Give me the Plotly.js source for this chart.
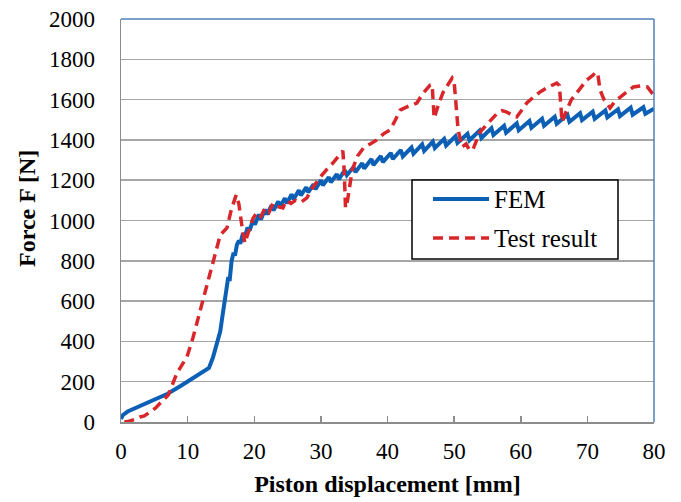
<!DOCTYPE html>
<html>
<head>
<meta charset="utf-8">
<script src="https://cdn.plot.ly/plotly-3.0.1.min.js"></script>
<style>html,body{margin:0;padding:0;background:#fff;}#chart{width:681px;height:502px;}</style>
</head>
<body>
<div id="chart"></div>
<script>
// FEM series (displacement mm, force N)
const femX = [0,0.3,1,3,5,7,9,11,13.2,13.8,14.4,14.9,15.2,15.5,15.8,16.1,16.3,16.6,16.9,17.1,17.4,17.7,17.9,18.3,18.6,19.0,19.3,19.8,20.1,20.7,21.0,21.6,21.9,22.6,22.9,23.6,23.9,24.6,24.9,25.6,25.9,26.7,27.0,27.8,28.1,28.9,29.2,30.0,30.3,31.2,31.5,32.4,32.7,33.6,33.9,34.9,35.2,36.2,36.5,37.6,37.9,39.0,39.3,40.5,40.8,42.0,42.3,43.6,43.9,45.2,45.5,46.8,47.1,48.5,48.8,50.2,50.5,52.0,52.3,53.8,54.1,55.6,55.9,57.5,57.8,59.4,59.7,61.3,61.6,63.2,63.5,65.1,65.4,67.0,67.3,68.9,69.2,70.8,71.1,72.7,73.0,74.6,74.9,76.5,76.8,78.4,78.7,80];
const femY = [15,35,52,80,108,140,180,220,268,320,390,450,520,600,660,720,700,800,840,825,880,900,885,935,920,965,950,1000,980,1030,1005,1055,1030,1075,1050,1095,1070,1110,1085,1130,1105,1150,1125,1165,1140,1180,1155,1200,1175,1215,1190,1230,1205,1250,1225,1265,1240,1285,1258,1305,1275,1320,1290,1335,1305,1350,1318,1362,1332,1378,1346,1392,1360,1405,1372,1418,1385,1430,1398,1445,1410,1458,1424,1470,1436,1482,1448,1494,1460,1505,1470,1515,1480,1525,1490,1533,1498,1540,1505,1546,1512,1552,1518,1560,1525,1562,1530,1555];

// Test result series
const testX = [0.5,1,2,2.85,3.5,4.35,5.2,5.9,7.1,8.4,9.9,10.8,11.9,12.8,13.7,14.9,15.9,16.6,17.3,17.7,18.2,18.6,19.2,19.8,20.4,21.0,21.6,22.2,22.8,23.4,24.3,24.8,25.5,26.2,27.0,27.9,28.5,29.2,29.9,30.8,31.8,32.9,33.3,33.5,33.7,34.0,34.7,35.5,36.4,37.4,38.4,39.4,40.4,41.2,41.9,43.0,44.4,45.3,46.4,46.7,47.0,47.5,48.3,49.0,49.7,50.0,50.3,50.6,51.2,51.8,52.3,52.8,53.4,53.9,55.0,56.5,57.2,57.9,58.6,59.4,60.2,60.9,62.0,62.9,64.0,65.4,65.8,66.1,66.2,66.9,67.6,68.4,69.9,70.8,71.3,71.6,71.9,72.5,73.4,74.1,74.9,76.0,76.9,78.0,79.0,79.5,80];
const testY = [0,2,12,25,30,50,70,94,134,243,323,418,555,660,780,928,963,1060,1127,1080,960,888,950,1010,1040,1020,1060,1040,1085,1070,1062,1100,1085,1100,1090,1112,1150,1185,1216,1250,1285,1330,1345,1250,1062,1100,1250,1320,1360,1380,1400,1430,1450,1500,1548,1565,1583,1630,1672,1675,1508,1560,1633,1670,1707,1690,1550,1449,1365,1380,1350,1350,1400,1439,1480,1533,1545,1538,1525,1514,1550,1583,1615,1638,1660,1682,1670,1560,1489,1548,1600,1633,1697,1720,1737,1720,1648,1600,1558,1590,1613,1640,1663,1668,1663,1640,1620];

const xTicks = [0,10,20,30,40,50,60,70,80];
const yTicks = [0,200,400,600,800,1000,1200,1400,1600,1800,2000];
const seriesNames = ['FEM', 'Test result'];
const seriesColors = ['#0b5fb5', '#d8262b'];
const xTitle = 'Piston displacement [mm]';
const yTitle = 'Force F [N]';

const serif = 'Liberation Serif, Times New Roman, serif';

// plot area in pixels (for placing legend / titles)
const PL = 121, PR = 654, PT = 19, PB = 422;
const px = v => (v - PL) / (PR - PL);
const py = v => (PB - v) / (PB - PT);

const traces = [
  {x: femX, y: femY, name: seriesNames[0], type: 'scatter', mode: 'lines',
   line: {color: seriesColors[0], width: 4}},
  {x: testX, y: testY, name: seriesNames[1], type: 'scatter', mode: 'lines',
   line: {color: seriesColors[1], width: 3.5, dash: '10px,6px'}}
];

const layout = {
  width: 681, height: 502,
  margin: {l: PL, r: 681 - PR, t: PT, b: 502 - PB},
  paper_bgcolor: '#ffffff', plot_bgcolor: '#ffffff',
  showlegend: false,
  xaxis: {
    range: [0, 80], tickvals: xTicks, ticktext: xTicks.map(String),
    showgrid: false, zeroline: false,
    showline: true, linecolor: '#8c8c8c', linewidth: 1.5,
    ticks: 'inside', ticklen: 6, tickwidth: 1.5, tickcolor: '#8c8c8c',
    tickfont: {family: serif, size: 23, color: '#000'},
    ticklabelstandoff: 8,
    title: {text: xTitle, font: {family: serif, size: 24, color: '#000', weight: 'bold'}, standoff: 12}
  },
  yaxis: {
    range: [0, 2000], tickvals: yTicks, ticktext: yTicks.map(String),
    showgrid: true, gridcolor: '#a6a6a6', gridwidth: 1.5, zeroline: false,
    showline: true, linecolor: '#8c8c8c', linewidth: 1.5,
    ticks: '',
    tickfont: {family: serif, size: 23, color: '#000'},
    ticklabelstandoff: 20
  },
  shapes: [
    {type: 'line', xref: 'paper', yref: 'paper', x0: 0, x1: 1, y0: 1, y1: 1,
     line: {color: '#4f81bd', width: 1.5}},
    {type: 'line', xref: 'paper', yref: 'paper', x0: 1, x1: 1, y0: 0, y1: 1,
     line: {color: '#4f81bd', width: 1.5}},
    // legend box
    {type: 'rect', xref: 'paper', yref: 'paper', x0: px(412), x1: px(618), y0: py(259), y1: py(180),
     fillcolor: '#ffffff', line: {color: '#000000', width: 1.5}},
    // legend samples
    {type: 'line', xref: 'paper', yref: 'paper', x0: px(433), x1: px(489), y0: py(199), y1: py(199),
     line: {color: seriesColors[0], width: 4}},
    {type: 'line', xref: 'paper', yref: 'paper', x0: px(433), x1: px(489), y0: py(238), y1: py(238),
     line: {color: seriesColors[1], width: 3.5, dash: '10px,6px'}}
  ],
  annotations: [
    {text: yTitle, xref: 'paper', yref: 'paper', x: px(27), y: py(209),
     xanchor: 'center', yanchor: 'middle', textangle: -90, showarrow: false,
     font: {family: serif, size: 24, color: '#000', weight: 'bold'}},
    {text: seriesNames[0], xref: 'paper', yref: 'paper', x: px(492), y: py(199),
     xanchor: 'left', yanchor: 'middle', showarrow: false,
     font: {family: serif, size: 25, color: '#000'}},
    {text: seriesNames[1], xref: 'paper', yref: 'paper', x: px(492), y: py(238),
     xanchor: 'left', yanchor: 'middle', showarrow: false,
     font: {family: serif, size: 25, color: '#000'}}
  ]
};

Plotly.newPlot('chart', traces, layout, {displayModeBar: false, staticPlot: true});
</script>
</body>
</html>
